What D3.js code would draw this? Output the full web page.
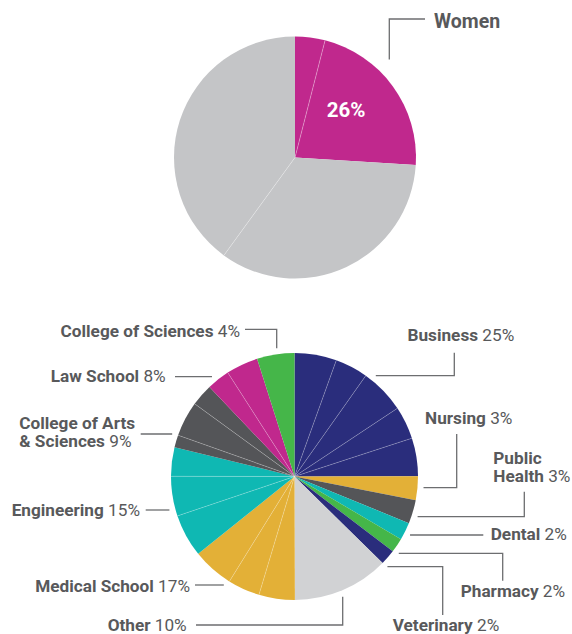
<!DOCTYPE html>
<html>
<head>
<meta charset="utf-8">
<title>Women and schools</title>
<script src="https://cdnjs.cloudflare.com/ajax/libs/d3/7.8.5/d3.min.js"></script>
<style>
  body { margin: 0; background: #fff; }
  svg { display: block; font-family: Roboto, "Noto Sans", sans-serif; }
  .lbl { fill: #58595b; font-size: 17.2px; }
  .lbl .name { font-weight: 700; }
  .leader { fill: none; stroke: #6d6e70; stroke-width: 1.3; }
</style>
</head>
<body>
<svg id="chart" width="572" height="634"></svg>
<script>
// top pie: women share, drawn in two pieces each
const topParts = [4, 22, 34, 40];
const topGroup = ['women', 'women', 'other', 'other'];
const womenPct = 26;

// bottom pie: schools, clockwise from 12 o'clock
const schools = ['Business', 'Nursing', 'Public Health', 'Dental', 'Pharmacy', 'Veterinary',
  'Other', 'Medical School', 'Engineering', 'College of Arts & Sciences', 'Law School', 'College of Sciences'];
const schoolPct = [25, 3, 3, 2, 2, 2, 10, 17, 15, 9, 8, 4];
// the slices as drawn (sub-programs)
const schoolParts = [
  [5.5, 4.3, 5.9, 4.3, 5.0],
  [3.1],
  [3.1],
  [2.3],
  [1.9],
  [2.0],
  [12.6],
  [4.7, 4.2, 5.4],
  [5.6, 5.2, 3.8],
  [1.6, 4.6, 2.9],
  [3.0, 4.2],
  [4.9]
];
const schoolColor = ['#2a2d7c', '#e3b037', '#545558', '#0fb8b3', '#45b649', '#2a2d7c',
  '#d1d2d4', '#e3b037', '#0fb8b3', '#545558', '#c0288d', '#45b649'];

const svg = d3.select('#chart');

// ---------- top pie ----------
const topPos = { cx: 295, cy: 157.5, r: 121 };
const topPie = d3.pie().sort(null).value(d => d)(topParts);
const topArc = d3.arc().innerRadius(0).outerRadius(topPos.r);
const gTop = svg.append('g').attr('transform', `translate(${topPos.cx},${topPos.cy})`);

gTop.selectAll('path')
  .data(topPie)
  .join('path')
  .attr('d', topArc)
  .attr('fill', (d, i) => topGroup[i] === 'women' ? '#c0288d' : '#c4c5c7');

// thin dividers between pieces of the same group
gTop.selectAll('line.div')
  .data(topPie.filter((d, i) => i > 0 && topGroup[i] === topGroup[i - 1]))
  .join('line')
  .attr('class', 'div')
  .attr('x1', 0).attr('y1', 0)
  .attr('x2', d => d3.pointRadial(d.startAngle, topPos.r)[0])
  .attr('y2', d => d3.pointRadial(d.startAngle, topPos.r)[1])
  .attr('stroke', '#fff').attr('stroke-opacity', 0.45).attr('stroke-width', 0.7);

const womenEnd = d3.sum(topParts.filter((v, i) => topGroup[i] === 'women')) / d3.sum(topParts) * 2 * Math.PI;
const pctPos = d3.pointRadial(womenEnd / 2, 70);
gTop.append('text')
  .attr('x', pctPos[0]).attr('y', pctPos[1])
  .attr('text-anchor', 'middle').attr('dominant-baseline', 'central')
  .attr('fill', '#fff').attr('font-weight', 700).attr('font-size', 20.5)
  .text(womenPct + '%');

svg.append('polyline').attr('class', 'leader')
  .attr('points', '389.3,59.5 389.3,19 425,19');
svg.append('text')
  .attr('x', 434).attr('y', 28.2)
  .attr('fill', '#58595b').attr('font-weight', 700).attr('font-size', 19.5)
  .text('Women');

// ---------- bottom pie ----------
const bot = { cx: 294.5, cy: 476.5, r: 123.5 };
const flat = [];
schoolParts.forEach((parts, c) => parts.forEach((v, k) => flat.push({ c, k, v })));
const botPie = d3.pie().sort(null).value(d => d.v)(flat);
const botArc = d3.arc().innerRadius(0).outerRadius(bot.r);
const gBot = svg.append('g').attr('transform', `translate(${bot.cx},${bot.cy})`);

gBot.selectAll('path')
  .data(botPie)
  .join('path')
  .attr('d', botArc)
  .attr('fill', d => schoolColor[d.data.c]);

gBot.selectAll('line.div')
  .data(botPie.filter(d => d.data.k > 0))
  .join('line')
  .attr('class', 'div')
  .attr('x1', 0).attr('y1', 0)
  .attr('x2', d => d3.pointRadial(d.startAngle, bot.r)[0])
  .attr('y2', d => d3.pointRadial(d.startAngle, bot.r)[1])
  .attr('stroke', '#fff').attr('stroke-opacity', 0.4).attr('stroke-width', 0.6);

// label layout: text lines, anchor, leader path (last segment runs to the pie)
// dir 'h': final segment horizontal at y = last point's y; 'v': vertical at last point's x
const labelLayout = [
  { lines: ['Business'], x: 407.5, y: 341, anchor: 'start', pts: [[454.3, 352.7], [454.3, 375.7]], dir: 'h' },
  { lines: ['Nursing'], x: 425, y: 424, anchor: 'start', pts: [[456.7, 434], [456.7, 487.7]], dir: 'h' },
  { lines: ['Public', 'Health'], x: 493.3, y: 464, anchor: 'start', pts: [[524.3, 491.7], [524.3, 516.7]], dir: 'h' },
  { lines: ['Dental'], x: 490.7, y: 540, anchor: 'start', pts: [[483.3, 535]], dir: 'h' },
  { lines: ['Pharmacy'], x: 460.7, y: 596.5, anchor: 'start', pts: [[502.7, 580.7], [502.7, 553.3]], dir: 'h' },
  { lines: ['Veterinary'], x: 392.7, y: 630.5, anchor: 'start', pts: [[442.7, 615], [442.7, 566.7]], dir: 'h' },
  { lines: ['Other'], x: 186.7, y: 630.5, anchor: 'end', pts: [[196, 625], [342.7, 625]], dir: 'v' },
  { lines: ['Medical School'], x: 190, y: 592.3, anchor: 'end', pts: [[195, 585]], dir: 'h' },
  { lines: ['Engineering'], x: 140, y: 516.3, anchor: 'end', pts: [[145.7, 510]], dir: 'h' },
  { lines: ['College of Arts', '& Sciences'], x: 19.3, y: 429, anchor: 'start', pts: [[140.7, 434]], dir: 'h' },
  { lines: ['Law School'], x: 165.7, y: 382.3, anchor: 'end', pts: [[175, 376.7]], dir: 'h' },
  { lines: ['College of Sciences'], x: 240, y: 337.3, anchor: 'end', pts: [[245, 329.3], [276.7, 329.3]], dir: 'v' }
];
const lineGap = 18.4;
const reach = bot.r + 6;

labelLayout.forEach((L, i) => {
  const last = L.pts[L.pts.length - 1];
  let end;
  if (L.dir === 'h') {
    const dy = last[1] - bot.cy;
    const dx = Math.sqrt(reach * reach - dy * dy) * (last[0] > bot.cx ? 1 : -1);
    end = [bot.cx + dx, last[1]];
  } else {
    const dx = last[0] - bot.cx;
    const dy = Math.sqrt(reach * reach - dx * dx) * (last[1] > bot.cy ? 1 : -1);
    end = [last[0], bot.cy + dy];
  }
  svg.append('polyline').attr('class', 'leader')
    .attr('points', L.pts.concat([end]).map(p => p.join(',')).join(' '));

  const t = svg.append('text').attr('class', 'lbl')
    .attr('x', L.x).attr('y', L.y).attr('text-anchor', L.anchor);
  L.lines.forEach((ln, j) => {
    const ts = t.append('tspan').attr('x', L.x).attr('dy', j === 0 ? 0 : lineGap);
    ts.append('tspan').attr('class', 'name').text(ln);
    if (j === L.lines.length - 1) ts.append('tspan').text(' ' + schoolPct[i] + '%');
  });
});
</script>
</body>
</html>
